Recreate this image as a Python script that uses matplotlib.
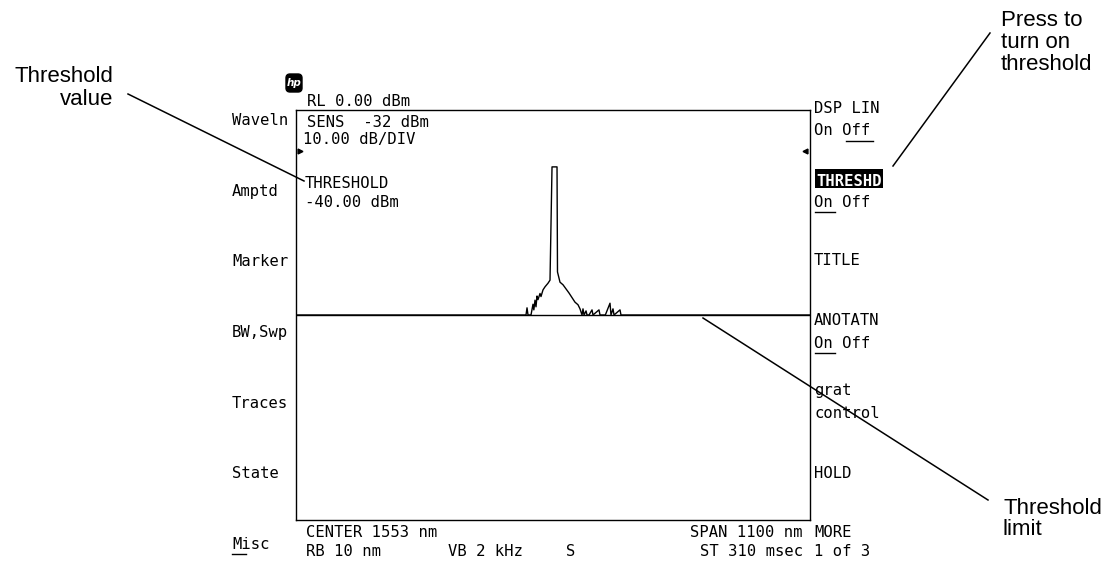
import numpy as np
import matplotlib.pyplot as plt
from matplotlib.patches import Rectangle, FancyBboxPatch

# Instrument settings
ref_level = 0.0        # dBm
threshold = -40.0      # dBm
center = 1553.0        # nm
span = 1100.0          # nm

# Trace (wavelength nm, power dBm); below threshold is shown at threshold
wavelength = [1003, 1300, 1491.0, 1495.2, 1497.4, 1499.5, 1505.9, 1510.2, 1512.0, 1514.5,
              1516.6, 1518.8, 1520.9, 1525.2, 1527.3, 1531.6, 1535.9, 1542.3, 1546.6, 1548.7,
              1550.9, 1561.6, 1562.6, 1568.0, 1574.4, 1580.8, 1587.2, 1591.5, 1595.8, 1600.1,
              1606.5, 1610.8, 1615.1, 1617.2, 1619.4, 1623.7, 1625.8, 1630.1, 1636.5, 1638.6,
              1651.4, 1653.6, 1665.0, 1675.0, 1677.1, 1681.4, 1683.6, 1696.4, 1698.5, 1800, 2103]
power = [-58, -56, -47, -44, -38.6, -45, -42, -37.9, -39.0, -37.1,
         -38.4, -36.3, -37.0, -35.8, -36.4, -35.1, -34.5, -33.8, -33.2, -22.4,
         -11.1, -11.1, -31.6, -33.6, -34.1, -34.9, -35.7, -36.3, -36.9, -37.5,
         -38.0, -38.8, -41.5, -38.8, -43, -39.2, -44, -42, -39.0, -45,
         -39.0, -46, -44, -37.7, -45, -38.8, -47, -39.0, -48, -52, -58]

left_keys = ['Waveln', 'Amptd', 'Marker', 'BW,Swp', 'Traces', 'State', 'Misc']

W, H = 1113, 563
fig = plt.figure(figsize=(W / 100, H / 100), dpi=100)

# overlay in pixel coordinates for the screen text and callouts
ov = fig.add_axes([0, 0, 1, 1])
ov.set_xlim(0, W)
ov.set_ylim(H, 0)
ov.axis('off')
ov.patch.set_alpha(0)

# trace display
ax = fig.add_axes([296 / W, 1 - 520 / H, (810 - 296) / W, (520 - 110) / H])
ax.patch.set_alpha(0)
shown = np.maximum(np.array(power), threshold)
ax.plot(wavelength, shown, color='black', lw=1.0)
ax.axhline(threshold, color='black', lw=1.0)
ax.set_xlim(center - span / 2, center + span / 2)
ax.set_ylim(ref_level - 80, ref_level)
ax.set_xticks([])
ax.set_yticks([])
for s in ax.spines.values():
    s.set_linewidth(1.0)

mono = dict(family='DejaVu Sans Mono', fontsize=11.2, va='baseline', color='black')
sans = dict(family='Liberation Sans', fontsize=16, color='black')

# hp logo
ov.add_patch(FancyBboxPatch((286, 74), 16, 18, boxstyle='round,pad=0,rounding_size=4',
                            fc='black', ec='black'))
ov.text(294, 83.5, 'hp', color='white', fontsize=7.5, style='italic', fontweight='bold',
        ha='center', va='center')

# top-left readouts
ov.text(307, 106, 'RL %.2f dBm' % ref_level, **mono)
ov.text(307, 127, 'SENS  -32 dBm', **mono)
ov.text(303, 144, '10.00 dB/DIV', **mono)
ov.text(305, 188, 'THRESHOLD', **mono)
ov.text(305, 207, '%.2f dBm' % threshold, **mono)
ov.plot([300], [151], marker='>', ms=3.5, color='black')
ov.plot([805], [151], marker='<', ms=3.5, color='black')

# left softkeys
for i, k in enumerate(left_keys):
    ov.text(232, 125 + i * 70.7, k, **mono)
ov.plot([232, 246], [554, 554], color='black', lw=1.0)

# right softkeys
ov.text(814, 113, 'DSP LIN', **mono)
ov.text(814, 135, 'On Off', **mono)
ov.plot([846, 873], [141, 141], color='black', lw=1.0)
ov.add_patch(Rectangle((815, 169), 68, 19, fc='black', ec='none'))
ov.text(816, 186, 'THRESHD', fontweight='bold', **{**mono, 'color': 'white'})
ov.text(814, 207, 'On Off', **mono)
ov.plot([815, 835], [212, 212], color='black', lw=1.0)
ov.text(814, 265, 'TITLE', **mono)
ov.text(814, 325, 'ANOTATN', **mono)
ov.text(814, 348, 'On Off', **mono)
ov.plot([815, 835], [353, 353], color='black', lw=1.0)
ov.text(814, 395, 'grat', **mono)
ov.text(814, 418, 'control', **mono)
ov.text(814, 478, 'HOLD', **mono)
ov.text(814, 537, 'MORE', **mono)
ov.text(814, 556, '1 of 3', **mono)

# bottom readouts
ov.text(306, 537, 'CENTER %d nm' % center, **mono)
ov.text(306, 556, 'RB 10 nm', **mono)
ov.text(448, 556, 'VB 2 kHz', **mono)
ov.text(566, 556, 'S', **mono)
ov.text(803, 537, 'SPAN %d nm' % span, ha='right', **mono)
ov.text(803, 556, 'ST 310 msec', ha='right', **mono)

# callouts
ov.text(113, 105, 'Threshold\nvalue', ha='right', va='baseline', linespacing=1.1, **sans)
ov.plot([128, 304], [94, 181], color='black', lw=1.1)
ov.text(1001, 70, 'Press to\nturn on\nthreshold', ha='left', va='baseline', linespacing=1.05, **sans)
ov.plot([990, 893], [33, 166], color='black', lw=1.1)
ov.text(1003, 535, 'Threshold\nlimit', ha='left', va='baseline', linespacing=1.0, **sans)
ov.plot([703, 988], [318, 500], color='black', lw=1.1)

fig.savefig('out.png', dpi=100)
